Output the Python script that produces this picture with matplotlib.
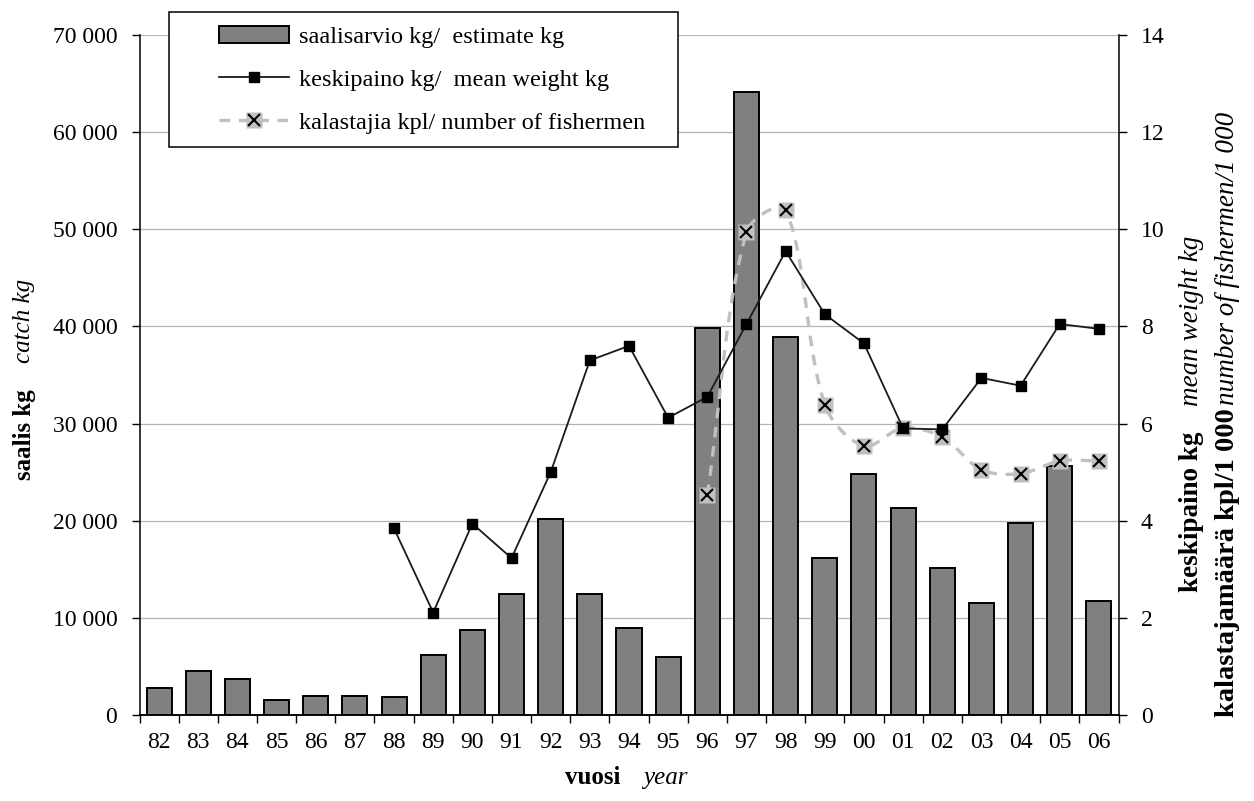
import numpy as np
import matplotlib
matplotlib.use("Agg")
import matplotlib.pyplot as plt
from matplotlib.lines import Line2D
from matplotlib.patches import Rectangle
from matplotlib.legend_handler import HandlerTuple
from matplotlib.ticker import FuncFormatter, MultipleLocator

plt.rcParams['font.family'] = ['Liberation Serif', 'DejaVu Serif']

years = ['82', '83', '84', '85', '86', '87', '88', '89', '90', '91', '92', '93',
         '94', '95', '96', '97', '98', '99', '00', '01', '02', '03', '04', '05', '06']
catch_kg = [2800, 4500, 3700, 1500, 2000, 2000, 1900, 6200, 8800, 12500, 20200, 12500,
            9000, 6000, 39800, 64100, 38900, 16200, 24800, 21300, 15100, 11500, 19800,
            25600, 11700]

# mean weight starts 1988, fishermen count starts 1996
weight_start = 6
mean_weight = [3.84, 2.11, 3.94, 3.23, 5.0, 7.3, 7.6, 6.12, 6.55, 8.05, 9.55, 8.25,
               7.65, 5.9, 5.88, 6.94, 6.78, 8.05, 7.95]
fisher_start = 14
fishermen = [4.53, 9.95, 10.39, 6.39, 5.54, 5.91, 5.72, 5.05, 4.97, 5.23, 5.23]

W, H = 1254, 801
fig = plt.figure(figsize=(W / 100, H / 100), dpi=100)
fig.subplots_adjust(left=139.5 / W, right=1118.5 / W, top=1 - 35 / H, bottom=1 - 715 / H)
ax = fig.add_subplot(111)
ax2 = ax.twinx()

x = np.arange(len(years))

# bars on the left axis
ax.bar(x, catch_kg, width=0.64, color='#808080', edgecolor='black', linewidth=1.4, zorder=2)
ax.set_xlim(-0.5, len(years) - 0.5)
ax.set_ylim(0, 70000)
ax.yaxis.set_major_locator(MultipleLocator(10000))
ax.yaxis.set_major_formatter(FuncFormatter(lambda v, p: f"{int(v):,}".replace(',', ' ')))
ax.grid(axis='y', color='#b4b4b4', linewidth=0.9)
ax.set_axisbelow(True)

ax.set_xticks(x)
ax.set_xticklabels(years)
ax.set_xticks(np.arange(-0.5, len(years)), minor=True)
ax.tick_params(axis='x', which='major', length=0, pad=12, labelsize=17)
ax.tick_params(axis='x', which='minor', length=6, width=1, direction='out')
ax.tick_params(axis='y', length=6, width=1, pad=10, labelsize=17)

for side in ['top', 'right']:
    ax.spines[side].set_visible(False)
ax2.spines['top'].set_visible(False)
ax2.spines['left'].set_visible(False)
for a in (ax, ax2):
    for s in a.spines.values():
        s.set_linewidth(1.1)

ax2.set_ylim(0, 14)
ax2.yaxis.set_major_locator(MultipleLocator(2))
ax2.tick_params(axis='y', length=6, width=1, pad=10, labelsize=17)


def smooth_curve(axis, xs, ys, n=30):
    # bezier smoothing in screen space, handles scaled by chord length
    pts = axis.transData.transform(np.column_stack([xs, ys]))
    out = [pts[0]]
    last = len(pts) - 1
    for i in range(last):
        p0, p1 = pts[max(i - 1, 0)], pts[i]
        p2, p3 = pts[i + 1], pts[min(i + 2, last)]
        d01 = np.hypot(*(p1 - p0))
        d12 = np.hypot(*(p2 - p1))
        d23 = np.hypot(*(p3 - p2))
        m1 = (p2 - p0) * d12 / (d01 + d12)
        m2 = (p3 - p1) * d12 / (d12 + d23)
        c1 = p1 + m1 / 3
        c2 = p2 - m2 / 3
        t = np.linspace(0, 1, n)[1:, None]
        seg = ((1 - t) ** 3 * p1 + 3 * (1 - t) ** 2 * t * c1
               + 3 * (1 - t) * t ** 2 * c2 + t ** 3 * p2)
        out.extend(seg)
    return axis.transData.inverted().transform(np.array(out))


# fishermen: smoothed dashed grey line with boxed crosses
fx = x[fisher_start:]
curve = smooth_curve(ax2, fx, fishermen)
dash_style = (0, (3.2, 2.6))
ax2.plot(curve[:, 0], curve[:, 1], color='#c0c0c0', lw=2.4, linestyle=dash_style, zorder=2)
ax2.plot(fx, fishermen, linestyle='none', marker='s', ms=12, mfc='#c0c0c0', mec='none', zorder=3)
ax2.plot(fx, fishermen, linestyle='none', marker='x', ms=8.5, mew=1.5, color='black', zorder=4)

# mean weight line
wx = x[weight_start:]
ax2.plot(wx, mean_weight, color='#1a1a1a', lw=1.3, marker='s', ms=7.5,
         mfc='black', mec='black', zorder=5)

# legend with its own white box
fig.add_artist(Rectangle((169 / W, 1 - 147 / H), (678 - 169) / W, (147 - 12) / H,
                         transform=fig.transFigure, facecolor='white',
                         edgecolor='black', linewidth=1.1, zorder=4))
h_bar = Rectangle((0, 0), 1, 1, facecolor='#808080', edgecolor='black', linewidth=1.4)
h_weight = Line2D([], [], color='#1a1a1a', lw=1.3, marker='s', ms=7.5, mfc='black', mec='black')
h_fish = (Line2D([], [], color='#c0c0c0', lw=2.4, linestyle=dash_style),
          Line2D([], [], linestyle='none', marker='s', ms=12, mfc='#c0c0c0', mec='none'),
          Line2D([], [], linestyle='none', marker='x', ms=8.5, mew=1.5, color='black'))
leg = fig.legend([h_bar, h_weight, h_fish],
                 ['saalisarvio kg/  estimate kg', 'keskipaino kg/  mean weight kg',
                  'kalastajia kpl/ number of fishermen'],
                 handler_map={tuple: HandlerTuple(ndivide=1, pad=0)},
                 loc='upper left', bbox_to_anchor=(219 / W, 1 - 26 / H),
                 frameon=False, borderpad=0, borderaxespad=0, numpoints=1,
                 handlelength=2.9, handletextpad=0.4, labelspacing=0.86,
                 fontsize=17.5)
leg.set_zorder(5)


def fig_text(px, py, s, **kw):
    return fig.text(px / W, 1 - py / H, s, **kw)


def stacked_title(px, py, parts, gap):
    # rotated title made of differently styled pieces, laid bottom to top
    renderer = fig.canvas.get_renderer()
    for s, kw in parts:
        t = fig_text(px, py, s, rotation=90, ha='center', va='bottom', **kw)
        py -= t.get_window_extent(renderer).height + gap


bold = dict(fontweight='bold')
ital = dict(style='italic')

stacked_title(24, 480, [('saalis kg', dict(fontsize=18, **bold)),
                        ('catch kg', dict(fontsize=18, **ital))], gap=26)
stacked_title(1192, 592, [('keskipaino kg', dict(fontsize=19.5, **bold)),
                          ('mean weight kg', dict(fontsize=19.5, **ital))], gap=26)
stacked_title(1228, 717, [('kalastajamäärä kpl/1 000', dict(fontsize=20.5, **bold)),
                          ('number of fishermen/1 000', dict(fontsize=19.5, **ital))], gap=3)

fig_text(565, 778, 'vuosi', fontsize=18, fontweight='bold', ha='left', va='center')
fig_text(643, 778, 'year', fontsize=18, style='italic', ha='left', va='center')

fig.savefig('out.png', dpi=100)
